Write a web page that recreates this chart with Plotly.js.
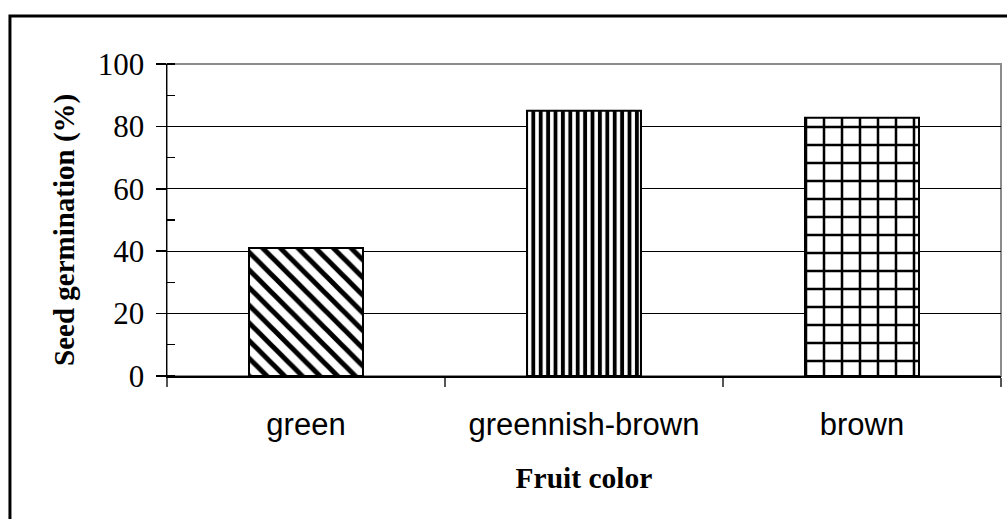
<!DOCTYPE html>
<html>
<head>
<meta charset="utf-8">
<script src="https://cdn.plot.ly/plotly-3.0.1.min.js"></script>
<style>html,body{margin:0;padding:0;background:#fff;}#chart{width:1007px;height:519px;}</style>
</head>
<body>
<div id="chart"></div>
<script>
const categories = ["green", "greennish-brown", "brown"];
const germination = [41, 85, 82.8];
const yTickValues = [0, 20, 40, 60, 80, 100];
const yTitle = "Seed germination (%)";
const xTitle = "Fruit color";

const trace = {
  type: "bar",
  x: categories,
  y: germination,
  width: 0.41,
  marker: {
    color: "white",
    line: {color: "black", width: 2},
    pattern: {
      shape: ["\\", "|", "+"],
      size: [12.5, 7.4, 18],
      solidity: [0.4, 0.52, 0.26],
      fgcolor: "black",
      bgcolor: "white",
      fillmode: "replace"
    }
  },
  hoverinfo: "none"
};

const layout = {
  width: 1007,
  height: 519,
  margin: {l: 167, r: 6, t: 64, b: 143, pad: 0},
  paper_bgcolor: "white",
  plot_bgcolor: "white",
  showlegend: false,
  xaxis: {
    type: "category",
    tickson: "boundaries",
    ticks: "outside",
    ticklen: 9,
    tickcolor: "#555",
    tickwidth: 1.5,
    showgrid: false,
    showline: true,
    linecolor: "black",
    linewidth: 1.5,
    tickfont: {family: "Liberation Sans, Arial, sans-serif", size: 31, color: "black"},
    ticklabelstandoff: 20,
    title: {text: xTitle, font: {family: "Liberation Serif, Times New Roman, serif", size: 29.5, color: "black", weight: "bold"}, standoff: 26},
    zeroline: false,
    fixedrange: true
  },
  yaxis: {
    range: [0, 100],
    tickvals: yTickValues,
    ticktext: yTickValues.map(String),
    ticks: "outside",
    ticklen: 10,
    tickcolor: "black",
    tickwidth: 1.5,
    showgrid: true,
    gridcolor: "black",
    gridwidth: 1,
    showline: true,
    linecolor: "black",
    linewidth: 1.5,
    zeroline: false,
    minor: {dtick: 10, ticks: "inside", ticklen: 8, tickcolor: "black", tickwidth: 1.2, showgrid: false},
    tickfont: {family: "Liberation Serif, Times New Roman, serif", size: 31, color: "black"},
    ticklabelstandoff: 5,
    fixedrange: true
  },
  annotations: [
    {text: yTitle, xref: "paper", yref: "paper", x: -0.1223, y: 0.468,
     xanchor: "center", yanchor: "middle", textangle: -90, showarrow: false,
     font: {family: "Liberation Serif, Times New Roman, serif", size: 29, color: "black", weight: "bold"}}
  ],
  shapes: [
    {type: "rect", xref: "paper", yref: "paper", x0: 0, x1: 1, y0: 0, y1: 1,
     line: {color: "#8c8c8c", width: 2}, layer: "below"},
    {type: "rect", xref: "paper", yref: "paper", x0: -0.1883, x1: 1.02, y0: -0.5, y1: 1.1538,
     line: {color: "black", width: 3}, layer: "below"}
  ]
};

Plotly.newPlot("chart", [trace], layout, {staticPlot: true, displayModeBar: false});
</script>
</body>
</html>
